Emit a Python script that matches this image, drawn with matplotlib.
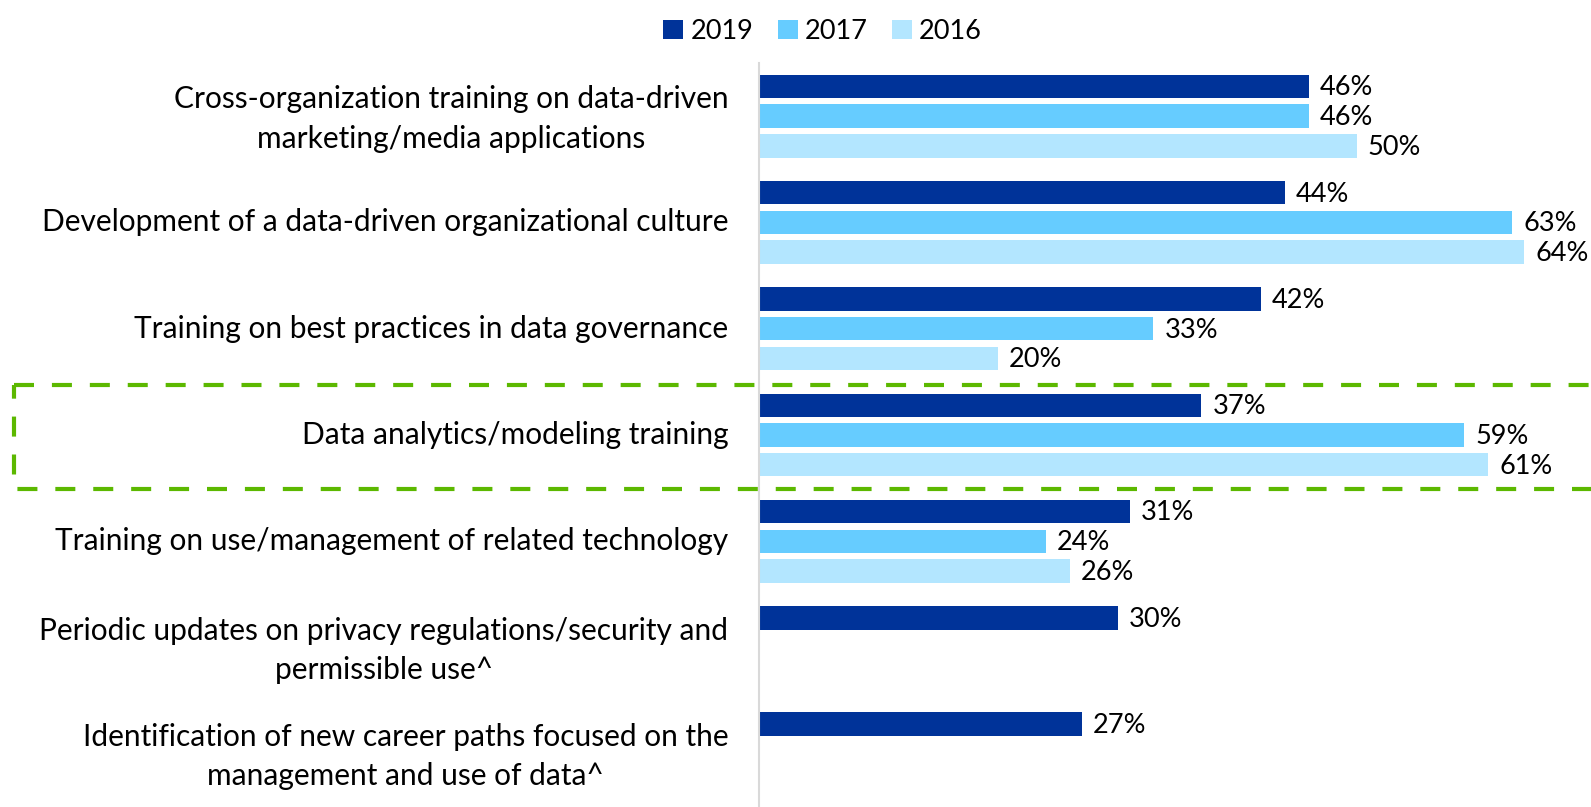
import matplotlib.pyplot as plt
from matplotlib.patches import Rectangle
import matplotlib.transforms as mtransforms
import numpy as np

plt.rcParams['font.family'] = ['Lato', 'DejaVu Sans']

categories = [
    'Cross-organization training on data-driven\nmarketing/media applications',
    'Development of a data-driven organizational culture',
    'Training on best practices in data governance',
    'Data analytics/modeling training',
    'Training on use/management of related technology',
    'Periodic updates on privacy regulations/security and\npermissible use^',
    'Identification of new career paths focused on the\nmanagement and use of data^',
]
years = ['2019', '2017', '2016']
vals_2019 = [46, 44, 42, 37, 31, 30, 27]
vals_2017 = [46, 63, 33, 59, 24, np.nan, np.nan]
vals_2016 = [50, 64, 20, 61, 26, np.nan, np.nan]
series = [vals_2019, vals_2017, vals_2016]
colors = ['#003399', '#66CCFF', '#B3E6FF']

fig = plt.figure(figsize=(15.91, 8.07), dpi=100)
ax = fig.add_axes([759 / 1591, 0.0, 1 - 759 / 1591, (807 - 63) / 807])

y = np.arange(len(categories))
offsets = [-0.28, 0.0, 0.28]
bar_h = 0.22

for vals, off, col, yr in zip(series, offsets, colors, years):
    vals = np.array(vals, dtype=float)
    ax.barh(y + off, vals, height=bar_h, color=col, label=yr)
    for yi, v in zip(y, vals):
        if np.isnan(v):
            continue
        ax.annotate(f'{v:.0f}%', xy=(v, yi + off), xytext=(8, -1),
                    textcoords='offset points', ha='left', va='center',
                    fontsize=19.5, color='black')

ax.set_xlim(0, 69.6)
ax.set_ylim(len(categories) - 0.5, -0.5)
ax.set_xticks([])
ax.set_yticks(y)
ax.set_yticklabels([])
ax.tick_params(axis='y', length=0)

# category labels, right aligned next to the axis, lines centred
for yi, cat in zip(y, categories):
    dy = -2 if '\n' in cat else 0
    ax.annotate(cat, xy=(0, yi), xycoords=('axes fraction', 'data'),
                xytext=(-22, dy), textcoords='offset points',
                ha='right', va='center', multialignment='center',
                linespacing=1.5, fontsize=21.5, color='black')

for s in ['top', 'right', 'bottom']:
    ax.spines[s].set_visible(False)
ax.spines['left'].set_color('#D9D9D9')
ax.spines['left'].set_linewidth(1.5)

# highlight box around the analytics row
trans = mtransforms.blended_transform_factory(fig.transFigure, ax.transData)
box = Rectangle((14 / 1591, 3 - 0.47), 1.2, 0.98, transform=trans,
                fill=False, edgecolor='#5CB800', linewidth=3,
                linestyle=(0, (4.8, 4.3)), clip_on=False)
ax.add_patch(box)

fig.legend(loc='upper center', bbox_to_anchor=(0.517, 1.0), ncol=3,
           frameon=False, fontsize=19.5, handlelength=0.75, handleheight=0.75,
           handletextpad=0.25, columnspacing=0.9, borderaxespad=0.3)

fig.savefig('out.png', dpi=100)
